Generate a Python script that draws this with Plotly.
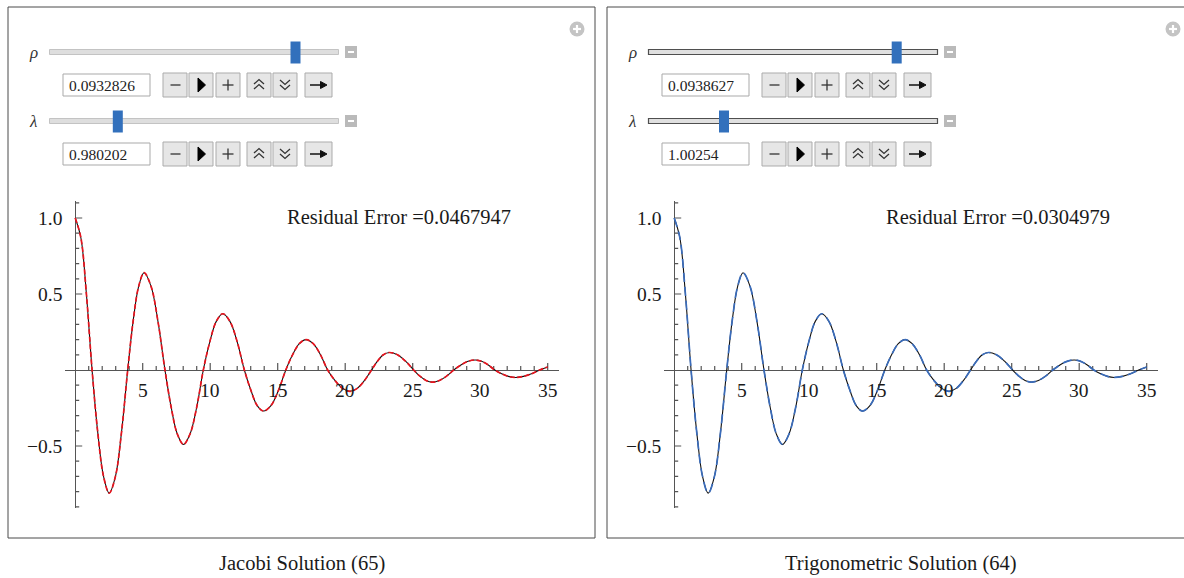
import plotly.graph_objects as go

W, H = 1184, 578

# ---------------- data ----------------
curve_x = [0.0, 0.42, 0.83, 1.25, 1.67, 2.10, 2.52, 2.98, 3.43, 3.89,
           4.29, 4.70, 5.10, 5.62, 6.13, 6.65, 7.11, 7.56, 8.02, 8.51,
           9.00, 9.49, 9.97, 10.45, 10.93, 11.46, 12.00, 12.53, 13.02, 13.48,
           13.95, 14.50, 15.05, 15.60, 16.10, 16.60, 17.10, 17.63, 18.17, 18.70,
           19.25, 19.81, 20.36, 20.89, 21.42, 21.95, 22.39, 22.83, 23.27, 23.87,
           24.47, 25.07, 25.53, 25.99, 26.45, 26.98, 27.51, 28.04, 28.57, 29.10,
           29.63, 30.11, 30.60, 31.08, 31.59, 32.09, 32.60, 33.20, 33.80, 34.40,
           35.00]
jacobi_y = [1.0, 0.87, 0.50, 0.0, -0.41, -0.70, -0.81, -0.70, -0.41, 0.0,
            0.32, 0.55, 0.64, 0.55, 0.32, 0.0, -0.245, -0.42, -0.49, -0.42,
            -0.245, 0.0, 0.185, 0.32, 0.37, 0.32, 0.185, 0.0, -0.135, -0.234,
            -0.27, -0.234, -0.135, 0.0, 0.10, 0.173, 0.20, 0.173, 0.10, 0.0,
            -0.07, -0.121, -0.14, -0.121, -0.07, 0.0, 0.058, 0.10, 0.115, 0.10,
            0.058, 0.0, -0.04, -0.069, -0.08, -0.069, -0.04, 0.0, 0.033, 0.057,
            0.066, 0.057, 0.033, 0.0, -0.025, -0.042, -0.049, -0.042, -0.025, 0.0,
            0.02]
trig_y = [1.0, 0.87, 0.50, 0.0, -0.41, -0.70, -0.81, -0.70, -0.41, 0.0,
          0.32, 0.55, 0.64, 0.55, 0.32, 0.0, -0.245, -0.42, -0.49, -0.42,
          -0.245, 0.0, 0.185, 0.32, 0.37, 0.32, 0.185, 0.0, -0.135, -0.234,
          -0.27, -0.234, -0.135, 0.0, 0.10, 0.173, 0.20, 0.173, 0.10, 0.0,
          -0.07, -0.121, -0.14, -0.121, -0.07, 0.0, 0.058, 0.10, 0.115, 0.10,
          0.058, 0.0, -0.04, -0.069, -0.08, -0.069, -0.04, 0.0, 0.033, 0.057,
          0.066, 0.057, 0.033, 0.0, -0.025, -0.042, -0.049, -0.042, -0.025, 0.0,
          0.02]
x_tick_vals = [5, 10, 15, 20, 25, 30, 35]
x_tick_text = ["5", "10", "15", "20", "25", "30", "35"]
y_tick_vals = [1.0, 0.5, -0.5]
y_tick_text = ["1.0", "0.5", "\u22120.5"]
panel_titles = ["Jacobi Solution (65)", "Trigonometric Solution (64)"]
residual_errors = ["0.0467947", "0.0304979"]
rho_values = ["0.0932826", "0.0938627"]
lambda_values = ["0.980202", "1.00254"]
param_labels = ["\u03c1", "\u03bb"]
overlay_colors = ["#e8141e", "#3a6cbb"]
overlay_dashes = ["5px,2.5px", "9px,5px"]

# ---------------- layout helpers ----------------
FONT = "Liberation Serif"
OFFS = [0, 599]
PLUS_X = [577, 1173]
XMIN, XMAX = -0.75, 35.85
YMIN, YMAX = -0.91, 1.11
PX_X = 13.5      # px per x unit
PX_Y = 152.0     # px per y unit
X0_PX = 75.2     # pixel of x=0 (left panel)
Y0_PX = 370.0    # pixel of y=0

def X(px):
    return px / W

def Y(py):
    return 1 - py / H

shapes = []
annotations = []

def rect(x0, y0, x1, y1, fill, line=None, lw=1):
    shapes.append(dict(type="rect", xref="paper", yref="paper",
                       x0=X(x0), x1=X(x1), y0=Y(y1), y1=Y(y0),
                       fillcolor=fill, layer="above",
                       line=dict(color=line if line else "rgba(0,0,0,0)", width=lw if line else 0)))

def seg(x0, y0, x1, y1, color, lw=1):
    shapes.append(dict(type="line", xref="paper", yref="paper",
                       x0=X(x0), x1=X(x1), y0=Y(y0), y1=Y(y1), layer="above",
                       line=dict(color=color, width=lw)))

def path(pts, color, lw=1.2, fill=None, closed=False):
    d = "M " + " L ".join(f"{X(a):.6f},{Y(b):.6f}" for a, b in pts)
    if closed:
        d += " Z"
    shapes.append(dict(type="path", xref="paper", yref="paper", path=d, layer="above",
                       fillcolor=fill if fill else "rgba(0,0,0,0)",
                       line=dict(color=color, width=lw)))

def text(x, y, s, size, xanchor="left", italic=False, color="#1a1a1a"):
    annotations.append(dict(xref="paper", yref="paper", x=X(x), y=Y(y), text=s,
                            showarrow=False, xanchor=xanchor, yanchor="middle",
                            font=dict(family=FONT, size=size, color=color,
                                      style="italic" if italic else "normal")))

thumb_pos = [(295.5, 117.8), (297.7, 125.0)]  # thumb centre pixels (left-panel coords)

fig = go.Figure()

for p, o in enumerate(OFFS):
    # panel frame
    rect(8 + o, 7, 595 + o, 538, "rgba(0,0,0,0)", "#4a4a4a", 1)
    # plus icon (top right)
    pc = PLUS_X[p]
    shapes.append(dict(type="circle", xref="paper", yref="paper",
                       x0=X(pc - 7.5), x1=X(pc + 7.5), y0=Y(36.5), y1=Y(21.5),
                       fillcolor="#c4c4c4", line=dict(width=0), layer="above"))
    seg(pc - 4, 29, pc + 4, 29, "white", 2.2)
    seg(pc, 25, pc, 33, "white", 2.2)

    vals = [rho_values[p], lambda_values[p]]
    for r in range(2):
        dy = 69 * r
        cy = 52 + dy
        text(27 + o, cy, param_labels[r], 17, italic=True, color="#333333")
        # slider track
        if p == 0:
            rect(49.5 + o, cy - 2.5, 338.5 + o, cy + 2.5, "#dedede", "#c3c3c3", 1)
        else:
            rect(49.5 + o, cy - 2.5, 338.5 + o, cy + 2.5, "#e0e0e0", "#4f4f4f", 1.2)
        # thumb
        tc = thumb_pos[p][r] + o
        rect(tc - 5, cy - 10.5, tc + 5, cy + 11.5, "#3270bc")
        # minus icon
        rect(345 + o, cy - 6, 357 + o, cy + 6, "#bababa")
        seg(348 + o, cy, 354 + o, cy, "white", 2)
        # input field
        by = 85 + dy
        rect(63 + o, by - 11, 150 + o, by + 11, "white", "#a9a9a9", 1)
        text(67 + o, by + 0.5, vals[r], 15.5, color="#222222")
        # buttons
        for (bx0, bx1) in [(163, 187), (189, 213), (216, 240), (247, 271), (273, 297), (305, 332)]:
            rect(bx0 + o, by - 12, bx1 + o, by + 12, "#e6e6e6", "#ababab", 1)
        # glyphs
        seg(170.5 + o, by, 180.5 + o, by, "#333333", 1.3)
        path([(198 + o, by - 7), (205.5 + o, by), (198 + o, by + 7)], "black", 1, fill="black", closed=True)
        seg(222.5 + o, by, 233.5 + o, by, "#333333", 1.3)
        seg(228 + o, by - 5.5, 228 + o, by + 5.5, "#333333", 1.3)
        path([(254 + o, by - 1), (259 + o, by - 5.5), (264 + o, by - 1)], "#333333", 1.3)
        path([(254 + o, by + 4), (259 + o, by - 0.5), (264 + o, by + 4)], "#333333", 1.3)
        path([(280 + o, by - 5), (285 + o, by - 0.5), (290 + o, by - 5)], "#333333", 1.3)
        path([(280 + o, by), (285 + o, by + 4.5), (290 + o, by)], "#333333", 1.3)
        seg(310 + o, by, 322 + o, by, "#111111", 1.5)
        path([(320.5 + o, by - 3.5), (327 + o, by), (320.5 + o, by + 3.5)], "#111111", 1, fill="#111111", closed=True)

    # residual error + caption
    text(285 + o, 217, "Residual Error =" + residual_errors[p], 20.5)
    text(301.5 + o, 563, panel_titles[p], 20.5, xanchor="center")

# ---------------- plots ----------------
series = [jacobi_y, trig_y]
for p, o in enumerate(OFFS):
    xa = "x" if p == 0 else "x2"
    ya = "y" if p == 0 else "y2"
    # axis ticks (Mathematica style, drawn on the axes)
    tx, ty = [], []
    for k in range(1, 36):
        h = (7 if k % 5 == 0 else 4) / PX_Y
        tx += [k, k, None]
        ty += [0, h, None]
    for j in range(-9, 12):
        if j == 0:
            continue
        yv = j / 10
        ln = (7 if j % 5 == 0 else 4) / PX_X
        tx += [0, ln, None]
        ty += [yv, yv, None]
    fig.add_trace(go.Scatter(x=tx, y=ty, mode="lines", xaxis=xa, yaxis=ya,
                             line=dict(color="#555555", width=1.2),
                             hoverinfo="skip", showlegend=False))
    fig.add_trace(go.Scatter(x=curve_x, y=series[p], mode="lines", xaxis=xa, yaxis=ya,
                             line=dict(color="#111111", width=1.1, shape="spline"),
                             hoverinfo="skip", showlegend=False))
    fig.add_trace(go.Scatter(x=curve_x, y=series[p], mode="lines", xaxis=xa, yaxis=ya,
                             line=dict(color=overlay_colors[p], width=1.7, shape="spline",
                                       dash=overlay_dashes[p]),
                             hoverinfo="skip", showlegend=False))
    for v, t in zip(x_tick_vals, x_tick_text):
        annotations.append(dict(xref=xa, yref=ya, x=v, y=0, text=t, showarrow=False,
                                xanchor="center", yanchor="middle", yshift=-21,
                                font=dict(family=FONT, size=19.5, color="#1a1a1a")))
    for v, t in zip(y_tick_vals, y_tick_text):
        annotations.append(dict(xref=xa, yref=ya, x=0, y=v, text=t, showarrow=False,
                                xanchor="right", yanchor="middle", xshift=-11, yshift=-1,
                                font=dict(family=FONT, size=19.5, color="#1a1a1a")))

def xdom(o):
    return [X(X0_PX + o + XMIN * PX_X), X(X0_PX + o + XMAX * PX_X)]

ydom = [Y(Y0_PX - YMIN * PX_Y), Y(Y0_PX - YMAX * PX_Y)]

axis_common = dict(showgrid=False, showticklabels=False, ticks="", showline=False,
                   zeroline=True, zerolinecolor="#555555", zerolinewidth=1.4,
                   fixedrange=True)

fig.update_layout(
    width=W, height=H,
    margin=dict(l=0, r=0, t=0, b=0),
    paper_bgcolor="white", plot_bgcolor="rgba(0,0,0,0)",
    showlegend=False,
    xaxis=dict(domain=xdom(OFFS[0]), range=[XMIN, XMAX], anchor="y", **axis_common),
    yaxis=dict(domain=ydom, range=[YMIN, YMAX], anchor="x", **axis_common),
    xaxis2=dict(domain=xdom(OFFS[1]), range=[XMIN, XMAX], anchor="y2", **axis_common),
    yaxis2=dict(domain=ydom, range=[YMIN, YMAX], anchor="x2", **axis_common),
    shapes=shapes,
    annotations=annotations,
)

fig.write_html("out.html", config={"displayModeBar": False},
               post_script="document.body.style.margin='0';document.body.style.padding='0';")
